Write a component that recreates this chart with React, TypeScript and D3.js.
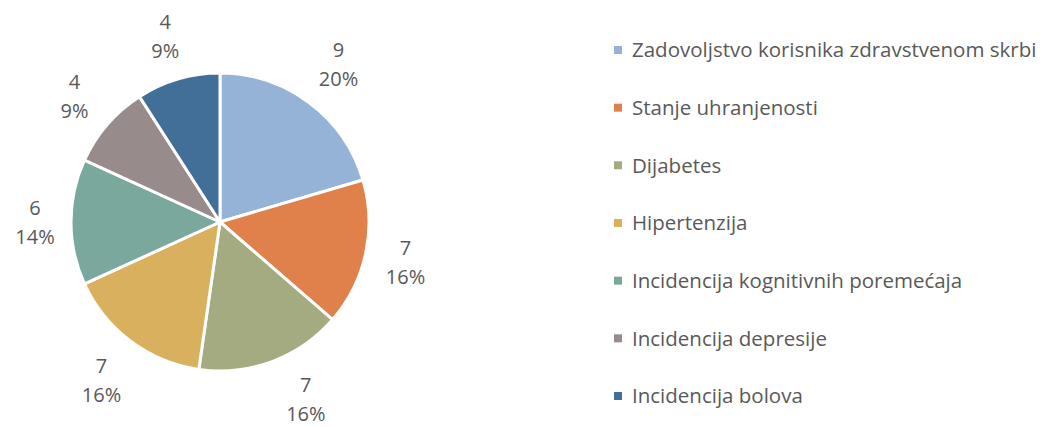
import React from "react";
import * as d3 from "d3";

const categories = [
  "Zadovoljstvo korisnika zdravstvenom skrbi",
  "Stanje uhranjenosti",
  "Dijabetes",
  "Hipertenzija",
  "Incidencija kognitivnih poremećaja",
  "Incidencija depresije",
  "Incidencija bolova",
];
const values = [9, 7, 7, 7, 6, 4, 4];
const colors = ["#95B3D7", "#E0804A", "#A5AB80", "#D9B15E", "#7BA89C", "#988B8B", "#426F98"];

const W = 1040;
const H = 427;
const cx = 220;
const cy = 222;
const R = 149;
const FONT = "'Open Sans', sans-serif";

export default function App() {
  const total = d3.sum(values);
  const pie = d3.pie<number>().sort(null).value((d) => d)(values);
  const arc = d3.arc<d3.PieArcDatum<number>>().innerRadius(0).outerRadius(R);
  const legendY = d3.scalePoint<number>().domain(d3.range(categories.length)).range([50, 396]);

  return (
    <svg width={W} height={H} style={{ position: "absolute", left: 0, top: 0 }}>
      <rect width={W} height={H} fill="#fff" />
      <g transform={`translate(${cx},${cy})`}>
        {pie.map((p, i) => (
          <path key={i} d={arc(p) || ""} fill={colors[i]} stroke="#fff" strokeWidth={3} strokeLinejoin="round" />
        ))}
        {pie.map((p, i) => {
          const mid = (p.startAngle + p.endAngle) / 2;
          const s = Math.sin(mid);
          const c = -Math.cos(mid);
          const pct = Math.round((values[i] / total) * 100) + "%";
          const halfW = pct.length * 6;
          const halfH = 25;
          const r = R + 18 + Math.abs(s) * halfW + Math.abs(c) * halfH;
          let x = s * r;
          let y = c * r;
          const maxY = H - 6 - cy - 22;
          const minY = 18 - cy + 7;
          if (y > maxY || y < minY) {
            y = Math.max(minY, Math.min(maxY, y));
            x = Math.sign(s) * Math.sqrt(Math.max(0, r * r - y * y));
          }
          return (
            <text key={i} x={x} y={y} textAnchor="middle" fontFamily={FONT} fontSize={20} fill="#595959">
              <tspan x={x} dy={-7}>{values[i]}</tspan>
              <tspan x={x} dy={29}>{pct}</tspan>
            </text>
          );
        })}
      </g>
      <g>
        {categories.map((c, i) => (
          <g key={i} transform={`translate(614,${legendY(i)})`}>
            <rect x={0} y={-4} width={8} height={8} fill={colors[i]} />
            <text x={18} y={0} dy="0.35em" fontFamily={FONT} fontSize={20.5} fill="#595959">
              {c}
            </text>
          </g>
        ))}
      </g>
    </svg>
  );
}
